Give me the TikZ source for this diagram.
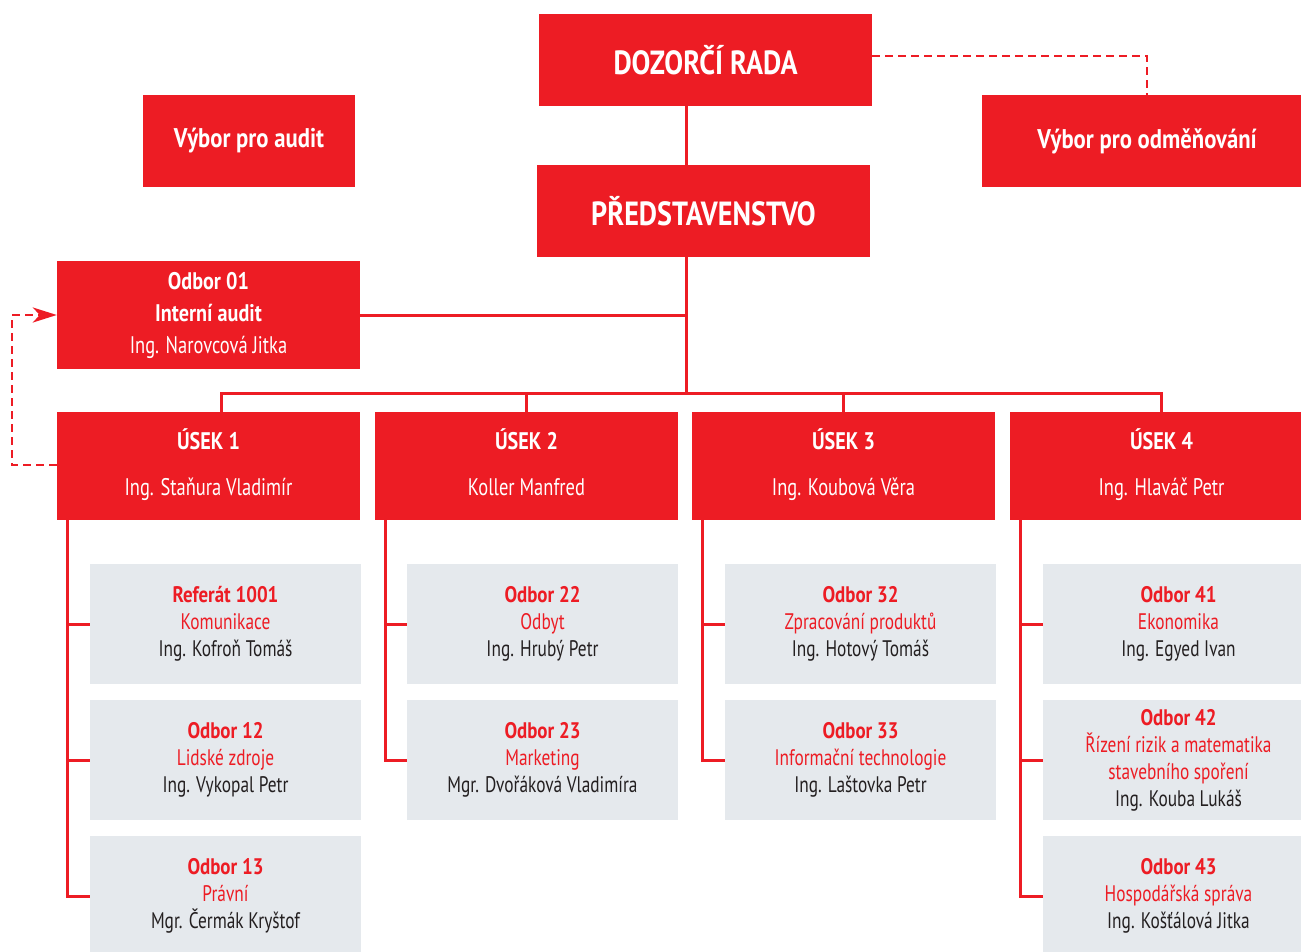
\documentclass[tikz,border=0pt]{standalone}
\usepackage{fontspec}
\setmainfont[FakeStretch=0.77,BoldFeatures={FakeStretch=0.84}]{PT Sans}
\usetikzlibrary{arrows.meta}
\definecolor{cred}{HTML}{ED1C24}
\definecolor{cgray}{HTML}{E5E9ED}
\definecolor{cdark}{HTML}{231F20}
\tikzset{
  redbox/.style={fill=cred, text=white, inner sep=0pt, align=center, font=\bfseries},
  usekbox/.style={redbox, minimum width=303pt, minimum height=108pt, font=\fontsize{24}{28}\selectfont},
  graybox/.style={fill=cgray, text=cdark, inner sep=0pt, align=center, minimum width=271pt, minimum height=120pt, font=\fontsize{22.5}{27}\selectfont},
  conn/.style={draw=cred, line width=3pt},
  dashconn/.style={draw=cred, line width=2.8pt, dash pattern=on 8pt off 5pt},
}
\newcommand{\gtext}[3]{{\color{cred}\textbf{#1}}\\{\color{cred}#2}\\#3}
\newcommand{\usektext}[2]{\textbf{#1}\strut\\[18pt]\mdseries #2\strut}
\begin{document}
\begin{tikzpicture}[x=1pt,y=-1pt]
\useasboundingbox (0,0) rectangle (1301,952);
% top
\node[redbox, minimum width=333pt, minimum height=92pt, font=\bfseries\fontsize{33.5}{36}\selectfont] (dr) at (705.5,60) {DOZORČÍ RADA};
\node[redbox, minimum width=212pt, minimum height=92pt, font=\bfseries\fontsize{27}{30}\selectfont] (vpa) at (249,141) {Výbor pro audit};
\node[redbox, minimum width=330pt, minimum height=92pt, font=\bfseries\fontsize{27}{30}\selectfont] (vpo) at (1147,141) {Výbor pro odměňování};
\node[redbox, minimum width=333pt, minimum height=92pt, font=\bfseries\fontsize{33.5}{36}\selectfont] (pred) at (703.5,211) {PŘEDSTAVENSTVO};
\node[redbox, minimum width=303pt, minimum height=108pt, font=\fontsize{24}{32}\selectfont] (o01) at (208.5,315) {\textbf{Odbor 01}\\\textbf{Interní audit}\\\mdseries Ing. Narovcová Jitka};
% useky
\node[usekbox] (u1) at (208.5,466) {\usektext{ÚSEK 1}{Ing. Staňura Vladimír}};
\node[usekbox] (u2) at (526.5,466) {\usektext{ÚSEK 2}{Koller Manfred}};
\node[usekbox] (u3) at (843.5,466) {\usektext{ÚSEK 3}{Ing. Koubová Věra}};
\node[usekbox] (u4) at (1161.5,466) {\usektext{ÚSEK 4}{Ing. Hlaváč Petr}};
% gray boxes
\node[graybox] (g11) at (225.5,624) {\gtext{Referát 1001}{Komunikace}{Ing. Kofroň Tomáš}};
\node[graybox] (g12) at (225.5,760) {\gtext{Odbor 12}{Lidské zdroje}{Ing. Vykopal Petr}};
\node[graybox] (g13) at (225.5,896) {\gtext{Odbor 13}{Právní}{Mgr. Čermák Kryštof}};
\node[graybox] (g21) at (542.5,624) {\gtext{Odbor 22}{Odbyt}{Ing. Hrubý Petr}};
\node[graybox] (g22) at (542.5,760) {\gtext{Odbor 23}{Marketing}{Mgr. Dvořáková Vladimíra}};
\node[graybox] (g31) at (860.5,624) {\gtext{Odbor 32}{Zpracování produktů}{Ing. Hotový Tomáš}};
\node[graybox] (g32) at (860.5,760) {\gtext{Odbor 33}{Informační technologie}{Ing. Laštovka Petr}};
\node[graybox] (g41) at (1178.5,624) {\gtext{Odbor 41}{Ekonomika}{Ing. Egyed Ivan}};
\node[graybox] (g42) at (1178.5,760) {{\color{cred}\textbf{Odbor 42}}\\{\color{cred}Řízení rizik a matematika}\\{\color{cred}stavebního spoření}\\Ing. Kouba Lukáš};
\node[graybox] (g43) at (1178.5,896) {\gtext{Odbor 43}{Hospodářská správa}{Ing. Košťálová Jitka}};
% connectors
\coordinate (hub) at (686,393);
\coordinate (d1) at (221,412);
\draw[conn] (dr.south -| hub) -- (pred.north -| hub);
\draw[conn] (pred.south -| hub) -- (hub);
\draw[conn] (o01.east) -- (o01.east -| hub);
\draw[conn] (d1) |- (hub) -| (u4.north);
\draw[conn] (u2.north) -- (u2.north |- hub);
\draw[conn] (u3.north) -- (u3.north |- hub);
\coordinate (t1) at (67,520);
\coordinate (t2) at (385,520);
\coordinate (t3) at (702,520);
\coordinate (t4) at (1020,520);
\draw[conn] (t1) |- (g13.west);
\draw[conn] (g11.west) -- (g11.west -| t1);
\draw[conn] (g12.west) -- (g12.west -| t1);
\draw[conn] (t2) |- (g22.west);
\draw[conn] (g21.west) -- (g21.west -| t2);
\draw[conn] (t3) |- (g32.west);
\draw[conn] (g31.west) -- (g31.west -| t3);
\draw[conn] (t4) |- (g43.west);
\draw[conn] (g41.west) -- (g41.west -| t4);
\draw[conn] (g42.west) -- (g42.west -| t4);
% dashed
\draw[dashconn] (dr.east |- 0,56) -| (vpo.north);
\coordinate (dl) at (12,465);
\draw[dashconn, -{Stealth[length=24pt,width=15pt,inset=7pt]}] (u1.west |- dl) -- (dl) |- (o01.west);
\end{tikzpicture}
\end{document}
